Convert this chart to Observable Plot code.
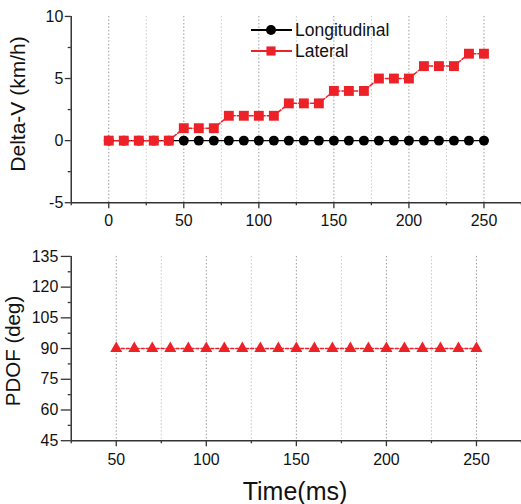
<!DOCTYPE html>
<html><head><meta charset="utf-8">
<script src="https://cdn.jsdelivr.net/npm/d3@7"></script>
<script src="https://cdn.jsdelivr.net/npm/@observablehq/plot@0.6"></script>
<style>
body{margin:0;background:#fff;overflow:hidden}
#wrap{position:relative;width:521px;height:504px;overflow:hidden;font-family:"Liberation Sans",Arial,sans-serif}
#wrap > svg{position:absolute;left:0}
</style>
</head><body><div id="wrap"></div>
<script>
// ---- data ----
const time = [0,10,20,30,40,50,60,70,80,90,100,110,120,130,140,150,160,170,180,190,200,210,220,230,240,250];
const longitudinal = [0,0,0,0,0,0,0,0,0,0,0,0,0,0,0,0,0,0,0,0,0,0,0,0,0,0];
const lateral = [0,0,0,0,0,1,1,1,2,2,2,2,3,3,3,4,4,4,5,5,5,6,6,6,7,7];
const pdofTime = [50,60,70,80,90,100,110,120,130,140,150,160,170,180,190,200,210,220,230,240,250];
const pdofDeg = [90,90,90,90,90,90,90,90,90,90,90,90,90,90,90,90,90,90,90,90,90];

const topXDomain = [-25, 275];
const topYDomain = [-5, 10];
const topXMajor = [0,50,100,150,200,250];
const topXMinor = [-25,25,75,125,175,225,275];
const topYMajor = [-5,0,5,10];
const topYMinor = [-2.5,2.5,7.5];

const botXDomain = [25, 275];
const botYDomain = [45, 135];
const botXMajor = [50,100,150,200,250];
const botXMinor = [25,75,125,175,225,275];
const botYMajor = [45,60,75,90,105,120,135];
const botYMinor = [52.5,67.5,82.5,97.5,112.5,127.5];

const seriesNames = ["Longitudinal","Lateral"];
const labels = {topY:"Delta-V (km/h)", botY:"PDOF (deg)", x:"Time(ms)"};

const RED = "#ec2228";
const AXIS = "#333";
const FONT = '"Liberation Sans", Arial, sans-serif';
const TICKFS = 16;

const longData = time.map((t,i)=>({t, v:longitudinal[i]}));
const latData = time.map((t,i)=>({t, v:lateral[i]}));
const pdofData = pdofTime.map((t,i)=>({t, v:pdofDeg[i]}));

function axes(xMajor, xMinor, yMajor, yMinor, xDom, yDom, o){
  return [
    Plot.ruleX(xMinor.filter(d=>d>xDom[0] && d<xDom[1]), {stroke:"#c8c8c8", strokeDasharray:"1.5,2"}),
    Plot.ruleX(xMajor, {stroke:"#9a9a9a", strokeDasharray:"1.5,2"}),
    Plot.axisX({ticks:xMajor, tickSize:6, tickPadding:o.xPad, label:null, tickFormat:d=>String(d), stroke:AXIS, strokeWidth:1.3, fill:"#111", fontSize:TICKFS}),
    Plot.axisX({ticks:xMinor, tickSize:3, label:null, tickFormat:()=>"", stroke:AXIS, strokeWidth:1.3}),
    Plot.axisY({ticks:yMajor, tickSize:o.yTick, tickPadding:o.yPad, label:null, tickFormat:d=>String(d), stroke:AXIS, strokeWidth:1.3, fill:"#111", fontSize:TICKFS}),
    Plot.axisY({ticks:yMinor, tickSize:3, label:null, tickFormat:()=>"", stroke:AXIS, strokeWidth:1.3}),
    Plot.ruleY([yDom[0]], {stroke:AXIS, strokeWidth:1.5}),
    Plot.ruleX([xDom[0]], {stroke:AXIS, strokeWidth:1.5})
  ];
}

const topPlot = Plot.plot({
  width:523, height:235, marginLeft:71, marginRight:0, marginTop:16, marginBottom:32,
  style:{fontFamily:FONT, fontSize:TICKFS+"px", background:"transparent", color:"#111", overflow:"visible"},
  x:{domain:topXDomain}, y:{domain:topYDomain},
  marks:[
    ...axes(topXMajor, topXMinor, topYMajor, topYMinor, topXDomain, topYDomain, {xPad:6, yTick:6, yPad:2}),
    Plot.line(longData, {x:"t", y:"v", stroke:"black", strokeWidth:1.5}),
    Plot.dot(longData, {x:"t", y:"v", r:5, fill:"black", symbol:"circle"}),
    Plot.line(latData, {x:"t", y:"v", stroke:RED, strokeWidth:1.5, strokeDasharray:"4,2"}),
    Plot.dot(latData, {x:"t", y:"v", r:5.6, fill:RED, symbol:"square"})
  ]
});
topPlot.style.top = "0px";

const botPlot = Plot.plot({
  width:523, height:269, marginLeft:71, marginRight:0, marginTop:21, marginBottom:63,
  style:{fontFamily:FONT, fontSize:TICKFS+"px", background:"transparent", color:"#111", overflow:"visible"},
  x:{domain:botXDomain}, y:{domain:botYDomain},
  marks:[
    ...axes(botXMajor, botXMinor, botYMajor, botYMinor, botXDomain, botYDomain, {xPad:7, yTick:10, yPad:3}),
    Plot.line(pdofData, {x:"t", y:"v", stroke:RED, strokeWidth:1.5, strokeDasharray:"3,2"}),
    Plot.dot(pdofData, {x:"t", y:"v", r:4.5, fill:RED, symbol:"triangle"})
  ]
});
botPlot.style.top = "235px";

const wrap = document.getElementById("wrap");
wrap.appendChild(topPlot);
wrap.appendChild(botPlot);

// overlay: axis titles + legend
const ov = d3.select(wrap).append("svg").attr("width",521).attr("height",504)
  .style("position","absolute").style("left","0").style("top","0")
  .style("font-family", FONT).style("pointer-events","none");

ov.append("text").attr("transform","translate(25,104) rotate(-90)")
  .attr("text-anchor","middle").attr("font-size",21).attr("fill","#111").text(labels.topY);
ov.append("text").attr("transform","translate(20,351) rotate(-90)")
  .attr("text-anchor","middle").attr("font-size",20.5).attr("fill","#111").text(labels.botY);
ov.append("text").attr("x",295).attr("y",500)
  .attr("text-anchor","middle").attr("font-size",25).attr("fill","#111").text(labels.x);

const leg = [
  {name:seriesNames[0], color:"black", sym:d3.symbolCircle, size:Math.PI*25, y:30},
  {name:seriesNames[1], color:RED, sym:d3.symbolSquare, size:Math.PI*5.6*5.6*0.85, y:51}
];
leg.forEach(l=>{
  ov.append("line").attr("x1",251).attr("x2",292).attr("y1",l.y).attr("y2",l.y)
    .attr("stroke",l.color).attr("stroke-width",2);
  ov.append("path").attr("d", d3.symbol(l.sym, l.size)()).attr("transform",`translate(271,${l.y})`).attr("fill",l.color);
  ov.append("text").attr("x",295).attr("y",l.y).attr("dy","0.35em").attr("font-size",17.5).attr("fill","#111").text(l.name);
});
</script>
</body></html>
